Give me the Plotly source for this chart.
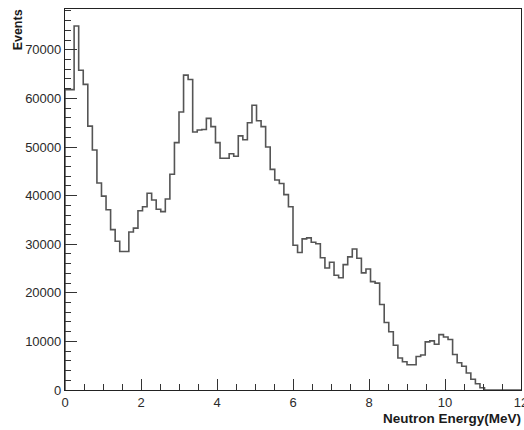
import numpy as np
import plotly.graph_objects as go

# Neutron energy spectrum: 100 bins of 0.12 MeV between 0 and 12 MeV
e_min = 0.0
e_max = 12.0
n_bins = 100

counts = [
    61800, 61800, 74900, 65800, 62900, 54300, 49400, 42600, 39900, 37100,
    33000, 30600, 28500, 28500, 32500, 33300, 36900, 37700, 40500, 39100,
    37200, 36700, 39300, 44400, 50900, 57200, 64800, 63900, 53100, 53500,
    53600, 55900, 54200, 50900, 47700, 47700, 48600, 48100, 52300, 51500,
    55000, 58600, 55400, 54200, 50000, 45400, 43200, 42500, 40200, 37700,
    29800, 28300, 31100, 31300, 30400, 30100, 27200, 25100, 26300, 23600,
    23100, 25800, 27400, 29000, 27100, 24100, 24900, 22300, 22000, 17600,
    13900, 12000, 9200, 6600, 5800, 5200, 5200, 6900, 7200, 9900,
    10100, 9400, 11400, 10900, 10400, 7300, 5600, 4900, 3500, 2200,
    1300, 450, 0, 0, 0, 0, 0, 0, 0, 0,
]

x_title = "Neutron Energy(MeV)"
y_title = "Events"
y_max = 78400

edges = np.linspace(e_min, e_max, n_bins + 1)
counts_arr = np.array(counts, dtype=float)

# step outline: start at zero, one level per bin, close at the last edge
step_x = np.concatenate([[edges[0]], edges[:-1], [edges[-1]]])
step_y = np.concatenate([[0.0], counts_arr, [counts_arr[-1]]])

fig = go.Figure()
fig.add_trace(go.Scatter(
    x=step_x, y=step_y, mode="lines",
    line=dict(shape="hv", color="#555555", width=1.6),
    hoverinfo="skip", showlegend=False,
))

tick_font = dict(family="Liberation Sans, Arial, sans-serif", size=13, color="#2a2a2a")
title_font = dict(family="Liberation Sans, Arial, sans-serif", size=13.5, color="#1a1a1a")

fig.update_xaxes(
    range=[e_min, e_max], tick0=0, dtick=2,
    ticks="inside", ticklen=11, tickwidth=1, tickcolor="#333333",
    minor=dict(dtick=0.5, ticks="inside", ticklen=6, tickwidth=1, tickcolor="#333333"),
    showline=True, linecolor="#222222", linewidth=1.2, mirror=True,
    showgrid=False, zeroline=False, tickfont=tick_font,
    ticklabeloverflow="allow", automargin=False,
)
fig.update_yaxes(
    range=[0, y_max], tick0=0, dtick=10000, tickformat="d",
    ticks="inside", ticklen=12, tickwidth=1, tickcolor="#333333",
    minor=dict(dtick=2000, ticks="inside", ticklen=6, tickwidth=1, tickcolor="#333333"),
    showline=True, linecolor="#222222", linewidth=1.2, mirror=True,
    showgrid=False, zeroline=False, tickfont=tick_font, automargin=False,
)

fig.add_annotation(
    text="<b>" + x_title + "</b>", xref="paper", yref="paper",
    x=1, y=-0.075, xanchor="right", yanchor="middle", xshift=2,
    showarrow=False, font=title_font,
)
fig.add_annotation(
    text="<b>" + y_title + "</b>", xref="paper", yref="paper",
    x=-0.103, y=0.944, xanchor="center", yanchor="middle",
    textangle=-90, showarrow=False, font=dict(title_font, size=12.5),
)

fig.update_layout(
    width=524, height=430,
    margin=dict(l=65, r=3, t=9, b=39.5),
    paper_bgcolor="white", plot_bgcolor="white",
)

fig.write_html("out.html")
